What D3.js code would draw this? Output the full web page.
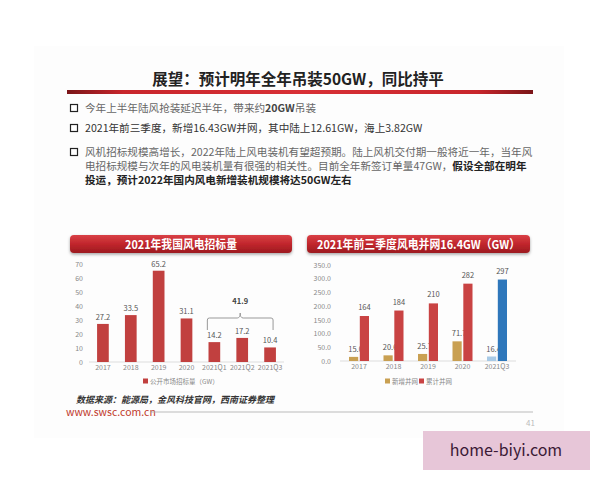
<!DOCTYPE html>
<html><head><meta charset="utf-8">
<script src="https://cdn.jsdelivr.net/npm/d3@7"></script>
<style>
body{margin:0;background:#fff;}
text{font-family:"Noto Sans CJK SC","Noto Sans",sans-serif;}
</style></head>
<body><svg id="c" width="600" height="480"></svg>
<script>
// ---- data ----
const leftCats = ["2017","2018","2019","2020","2021Q1","2021Q2","2021Q3"];
const leftVals = [27.2,33.5,65.2,31.1,14.2,17.2,10.4];
const leftTicks = [0,10,20,30,40,50,60,70];
const leftSeriesName = "公开市场招标量（GW）";
const bracketLabel = "41.9";

const rightCats = ["2017","2018","2019","2020","2021Q3"];
const newGrid = [15.0,20.6,25.7,71.7,16.4];
const cumGrid = [164,184,210,282,297];
const rightTicks = [0,50,100,150,200,250,300,350];
const rightSeries = ["新增并网","累计并网"];

const svg = d3.select("#c");
const defs = svg.append("defs");
const lg = defs.append("linearGradient").attr("id","redline");
[[0,"#7a1518"],[0.12,"#c8262c"],[0.5,"#d83036"],[0.88,"#c8262c"],[1,"#7a1518"]].forEach(s=>lg.append("stop").attr("offset",s[0]).attr("stop-color",s[1]));
const hg = defs.append("linearGradient").attr("id","hdr").attr("x1",0).attr("y1",0).attr("x2",0).attr("y2",1);
[[0,"#d94046"],[0.5,"#c1262c"],[1,"#9c1a20"]].forEach(s=>hg.append("stop").attr("offset",s[0]).attr("stop-color",s[1]));
const flt = defs.append("filter").attr("id","sh").attr("x","-10%").attr("y","-30%").attr("width","120%").attr("height","180%");
flt.append("feDropShadow").attr("dx",0).attr("dy",1.5).attr("stdDeviation",1.5).attr("flood-color","#000").attr("flood-opacity",0.35);

// slide background
svg.append("rect").attr("x",34).attr("y",46).attr("width",530).attr("height",392).attr("fill","#fdfdfd");

// title
svg.append("text").attr("x",298).attr("y",85).attr("text-anchor","middle").attr("font-size",15.5).attr("font-weight","bold").attr("fill","#222").text("展望：预计明年全年吊装50GW，同比持平");
svg.append("rect").attr("x",67).attr("y",90).attr("width",466).attr("height",4).attr("fill","url(#redline)");

// bullets
const bullets = [
  {y:112, parts:[["今年上半年陆风抢装延迟半年，带来约","n","#666"],["20GW","b","#444"],["吊装","n","#666"]]},
  {y:132, parts:[["2021年前三季度，新增16.43GW并网，其中陆上12.61GW，海上3.82GW","n","#333"]]},
  {y:156, parts:[["风机招标规模高增长，2022年陆上风电装机有望超预期。陆上风机交付期一般将近一年，当年风","n","#666"]]},
  {y:170, nobox:true, parts:[["电招标规模与次年的风电装机量有很强的相关性。目前全年新签订单量47GW，","n","#666"],["假设全部在明年","b","#222"]]},
  {y:184, nobox:true, parts:[["投运，预计2022年国内风电新增装机规模将达50GW左右","b","#222"]]}
];
bullets.forEach(b=>{
  if(!b.nobox){
    svg.append("rect").attr("x",70.5).attr("y",b.y-7.5).attr("width",7).attr("height",7).attr("fill","#fff").attr("stroke","#222").attr("stroke-width",1.2);
  }
  const t = svg.append("text").attr("x",85).attr("y",b.y).attr("font-size",10.6);
  b.parts.forEach(p=>t.append("tspan").attr("font-weight",p[1]==="b"?"bold":"normal").attr("fill",p[2]).text(p[0]));
});

// header boxes
function header(x,w,label,tw){
  svg.append("rect").attr("x",x).attr("y",235).attr("width",w).attr("height",18).attr("rx",4).attr("fill","url(#hdr)").attr("filter","url(#sh)");
  svg.append("text").attr("x",x+w/2).attr("y",248.5).attr("text-anchor","middle").attr("font-size",12).attr("font-weight","bold").attr("fill","#fff")
    .attr("textLength",tw).attr("lengthAdjust","spacingAndGlyphs").text(label);
}
header(70,222,"2021年我国风电招标量",112);
header(307,223,"2021年前三季度风电并网16.4GW（GW）",203);

// ---- left chart ----
const xL = d3.scaleBand().domain(leftCats).range([89,284]).paddingInner(0.58).paddingOuter(0.29);
const yL = d3.scaleLinear().domain([0,70]).range([362,264]);
const gL = svg.append("g");
gL.append("line").attr("x1",89).attr("x2",284).attr("y1",362).attr("y2",362).attr("stroke","#ddd");
const axL = gL.append("g").attr("transform","translate(86,0)").call(d3.axisLeft(yL).tickValues(leftTicks).tickSize(0).tickFormat(d3.format("d")));
axL.select(".domain").remove();
axL.selectAll("text").attr("font-size",7).attr("fill","#888").attr("font-family","Liberation Sans, Arial");
gL.selectAll(".bar").data(leftVals).join("rect").attr("x",(d,i)=>xL(leftCats[i])).attr("width",xL.bandwidth())
  .attr("y",d=>yL(d)).attr("height",d=>yL(0)-yL(d)).attr("fill","#c1403f");
gL.selectAll(".vl").data(leftVals).join("text").attr("x",(d,i)=>xL(leftCats[i])+xL.bandwidth()/2).attr("y",d=>yL(d)-4)
  .attr("text-anchor","middle").attr("font-size",7.5).attr("fill","#555").attr("font-family","Liberation Sans, Arial").text(d=>d.toFixed(1));
const axLx = gL.append("g").attr("transform","translate(0,362)").call(d3.axisBottom(xL).tickSize(0).tickPadding(3));
axLx.select(".domain").remove();
axLx.selectAll("text").attr("font-size",7).attr("fill","#888").attr("font-family","Liberation Sans, Arial");
// bracket
const bx1 = xL("2021Q1")+xL.bandwidth()/2-7, bx2 = xL("2021Q3")+xL.bandwidth()/2+3, bmid=(bx1+bx2)/2;
gL.append("path").attr("d",`M${bx1},330 L${bx1},320 Q${bx1},318 ${bx1+2},318 L${bmid-3},318 Q${bmid},318 ${bmid},313 Q${bmid},318 ${bmid+3},318 L${bx2-2},318 Q${bx2},318 ${bx2},320 L${bx2},330`)
  .attr("fill","none").attr("stroke","#999").attr("stroke-width",1);
gL.append("text").attr("x",bmid).attr("y",304).attr("text-anchor","middle").attr("font-size",7.5).attr("font-weight","bold").attr("fill","#444").attr("font-family","Liberation Sans, Arial").text(bracketLabel);
// legend
gL.append("rect").attr("x",143).attr("y",378.5).attr("width",5).attr("height",5).attr("fill","#c1403f");
gL.append("text").attr("x",150).attr("y",384).attr("font-size",6.5).attr("fill","#888").text(leftSeriesName);

// ---- right chart ----
const xR = d3.scaleBand().domain(rightCats).range([341.75,514.25]);
const x1 = d3.scaleBand().domain(["new","cum"]).range([-10,10]).paddingInner(0.15);
const yR = d3.scaleLinear().domain([0,350]).range([361,265]);
const gR = svg.append("g");
gR.append("line").attr("x1",340).attr("x2",516).attr("y1",361).attr("y2",361).attr("stroke","#ddd");
const axR = gR.append("g").attr("transform","translate(334,0)").call(d3.axisLeft(yR).tickValues(rightTicks).tickSize(0).tickFormat(d3.format(".1f")));
axR.select(".domain").remove();
axR.selectAll("text").attr("font-size",7).attr("fill","#888").attr("font-family","Liberation Sans, Arial");
const cx = c=>xR(c)+xR.bandwidth()/2;
const newCol = (i)=> i===rightCats.length-1 ? "#a8cae6" : "#c9a052";
const cumCol = (i)=> i===rightCats.length-1 ? "#2e77bb" : "#c94343";
gR.selectAll(".nb").data(newGrid).join("rect").attr("x",(d,i)=>cx(rightCats[i])+x1("new")).attr("width",x1.bandwidth())
  .attr("y",d=>yR(d)).attr("height",d=>yR(0)-yR(d)).attr("fill",(d,i)=>newCol(i));
gR.selectAll(".nl").data(newGrid).join("text").attr("x",(d,i)=>cx(rightCats[i])+x1("new")+x1.bandwidth()/2+2).attr("y",d=>yR(d)-5)
  .attr("text-anchor","middle").attr("font-size",7.5).attr("fill","#555").attr("font-family","Liberation Sans, Arial").text(d=>d.toFixed(1));
gR.selectAll(".cb").data(cumGrid).join("rect").attr("x",(d,i)=>cx(rightCats[i])+x1("cum")).attr("width",x1.bandwidth())
  .attr("y",d=>yR(d)).attr("height",d=>yR(0)-yR(d)).attr("fill",(d,i)=>cumCol(i));
gR.selectAll(".cl").data(cumGrid).join("text").attr("x",(d,i)=>cx(rightCats[i])+x1("cum")+x1.bandwidth()/2).attr("y",d=>yR(d)-6)
  .attr("text-anchor","middle").attr("font-size",7.5).attr("fill","#555").attr("font-family","Liberation Sans, Arial").text(d=>d);
const axRx = gR.append("g").attr("transform","translate(0,361)").call(d3.axisBottom(xR).tickSize(0).tickPadding(3));
axRx.select(".domain").remove();
axRx.selectAll("text").attr("font-size",7).attr("fill","#888").attr("font-family","Liberation Sans, Arial");
// legend
[[385,"#c9a052",rightSeries[0]],[419,"#c94343",rightSeries[1]]].forEach(l=>{
  gR.append("rect").attr("x",l[0]).attr("y",378.5).attr("width",5).attr("height",5).attr("fill",l[1]);
  gR.append("text").attr("x",l[0]+7).attr("y",384).attr("font-size",6.5).attr("fill","#888").text(l[2]);
});

// footer
svg.append("text").attr("x",76).attr("y",402.5).attr("font-size",9).attr("font-style","italic").attr("font-weight","bold").attr("fill","#333").text("数据来源：能源局，金风科技官网，西南证券整理");
svg.append("text").attr("x",66).attr("y",416).attr("font-size",10.5).attr("fill","#c0392b").attr("font-family","Liberation Sans, Arial").text("www.swsc.com.cn");
svg.append("line").attr("x1",150).attr("x2",533).attr("y1",412).attr("y2",412).attr("stroke","#aaa").attr("stroke-width",0.8);
svg.append("text").attr("x",526).attr("y",426).attr("font-size",8).attr("fill","#bbb").attr("font-family","Liberation Sans, Arial").text("41");

// watermark
svg.append("rect").attr("x",423).attr("y",431).attr("width",167).attr("height",39).attr("fill","#e7c6d8");
svg.append("text").attr("x",506).attr("y",456).attr("text-anchor","middle").attr("font-size",16).attr("fill","#3b1a36").attr("font-family","Liberation Sans, Arial").text("home-biyi.com");
</script></body></html>
